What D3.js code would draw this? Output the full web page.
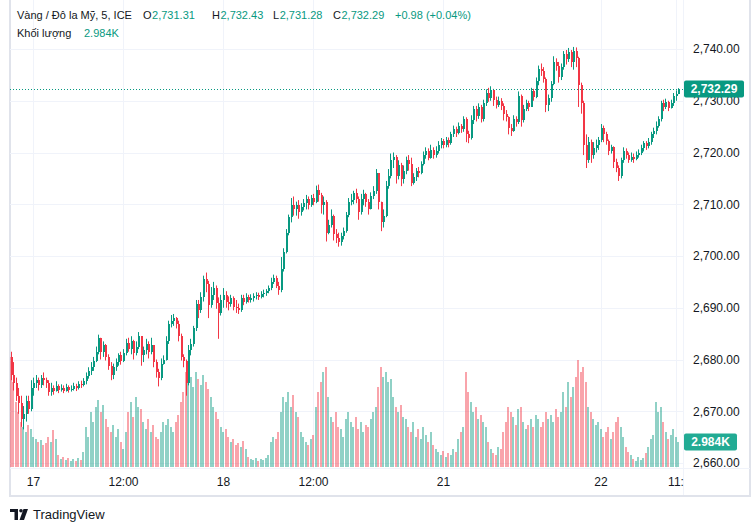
<!DOCTYPE html>
<html><head><meta charset="utf-8">
<script src="https://cdn.jsdelivr.net/npm/d3@7"></script>
<style>
html,body{margin:0;padding:0;background:#fff;}
svg{display:block;font-family:"Liberation Sans",Arial,sans-serif;}
</style></head>
<body><svg id="c" width="755" height="531"></svg>
<script>
// ---------------- DATA ----------------
const firstOpen = 2680.5;
const closes = [
2677,2675.5,2673,2671.5,2668.5,2669.5,2672,2670.5,2674.5,2675.5,
2676,2675,2676.5,2676,2675.5,2673.8,2674.5,2674,2674.8,2674.2,
2674.5,2674,2674.6,2674.2,2674.3,2674.8,2674.5,2675.2,2675,2675.8,
2676.8,2677.8,2678.5,2679.8,2681.5,2684.2,2681.5,2682.8,2680.5,2678.8,
2677,2678.5,2679.5,2680.8,2679.8,2681.2,2683.2,2682,2683.5,2681.2,
2682.5,2684.5,2680.8,2681.8,2683,2681.5,2682.8,2679.5,2677.5,2676.5,
2679.2,2680,2683.5,2686.8,2687.5,2688,2686.8,2684.5,2680.5,2679.8,
2675.5,2681.8,2683,2686,2690.8,2689.5,2692,2695.5,2694.5,2690.5,
2692.5,2693.8,2691,2689,2691.5,2692.5,2691.2,2690.8,2691.8,2690.2,
2690,2689.5,2691.8,2691.2,2692,2691.5,2691.8,2692.2,2692.5,2692,
2692.6,2692.9,2693.2,2693.8,2695,2695.8,2694.2,2693.5,2697.5,2700.8,
2704.5,2707.5,2709.8,2709,2709.8,2708.5,2709.5,2710.2,2711,2709.8,
2711.2,2710.5,2712.8,2711.8,2709.8,2710.5,2704.5,2706,2707.8,2704.2,
2703.5,2702.8,2703.8,2704.8,2708,2710.5,2710.8,2712.2,2711,2708.5,
2711,2712,2710.5,2709,2711.5,2712.5,2716,2710.5,2706.5,2707.8,
2713.5,2715.5,2718.5,2719.2,2715.5,2717.5,2714.8,2716.5,2718.5,2717.8,
2714.2,2715.2,2716.5,2716,2717.8,2719.5,2720.2,2719,2720.5,2719.5,
2720.3,2721.5,2722.2,2721.4,2722.5,2721.8,2723.5,2724.5,2723.8,2725.2,
2724.5,2726.5,2723.5,2722.8,2726.2,2728.5,2727,2728.8,2726.5,2729.5,
2731.5,2730.5,2732,2730.2,2729.2,2730,2729,2727.5,2726.8,2724.8,
2724.2,2726.5,2725.8,2731,2726.2,2728.5,2729.5,2728.8,2731.8,2730.8,
2733.8,2736.2,2735.8,2734.2,2729.2,2730.5,2733.2,2737.5,2736.8,2734.5,
2736.5,2739,2738,2739.5,2737.5,2739.6,2738.2,2733,2729.5,2721.5,
2718.5,2722,2719.5,2720.8,2721.5,2722.5,2724.8,2723.5,2722.2,2720.2,
2721,2718.2,2717,2715.5,2718.5,2720.2,2719.5,2718.5,2719.2,2718.8,
2719.5,2720,2720.8,2721.8,2721.2,2722,2723.5,2724.2,2725.2,2726.5,
2729.5,2728.8,2729.8,2728.6,2729.5,2731,2731.31,2732.29
];
const highs = [
2681.5,2679.5,2676.5,2674.5,2673,2671,2673,2673,2676,2676.5,
2677,2676.5,2677,2677.5,2676.5,2676,2675.5,2675,2675.8,2675.2,
2675.2,2675,2675.3,2675,2675,2675.5,2675.3,2675.8,2675.9,2676.4,
2677.5,2678.5,2679.5,2680.5,2682.5,2684.8,2684,2683.5,2683,2681,
2679.5,2679.2,2680.2,2681.2,2681.5,2682,2684,2684.2,2684.5,2683.8,
2683.5,2685.3,2684.5,2682.5,2684,2683.5,2684.2,2682.5,2680,2678.2,
2680.2,2680.8,2684.5,2687.5,2688.6,2688.8,2688.2,2687.5,2685,2681,
2680,2682.8,2684,2686.5,2691.5,2691.5,2693,2696.2,2696.8,2695.2,
2694,2695,2694.3,2692,2692.5,2693.8,2693.2,2692.2,2692.5,2692.2,
2691.5,2690.8,2692.5,2692.5,2692.8,2692.5,2692.6,2692.8,2693,2692.9,
2693.2,2693.5,2693.6,2694.3,2695.8,2696.4,2696.2,2695,2699.8,2701.5,
2705.2,2708,2711.2,2711.5,2710.5,2710.8,2710.2,2711,2711.8,2711.5,
2711.8,2712,2713.6,2713.8,2712.2,2711.5,2710.8,2707,2709,2708,
2705.2,2704.5,2704.5,2705.5,2708.5,2711.2,2712,2712.6,2713,2711.5,
2712,2712.8,2712.2,2711,2712.3,2713.5,2716.8,2716,2710.5,2709,
2714.5,2716.8,2719.8,2720,2719.5,2718.5,2718,2717.5,2719.2,2719.5,
2719,2716,2717,2717.2,2718.3,2720.2,2721,2720.8,2721.5,2721,
2721.2,2722.2,2722.8,2722.6,2723,2722.9,2724,2725.2,2725,2725.8,
2725.5,2727,2726.8,2724.2,2727.2,2729,2729,2729.5,2729.2,2730.2,
2732.2,2732.5,2732.8,2732.3,2730.8,2730.8,2730.5,2729.5,2728.2,2727,
2725.5,2727.2,2727,2731.8,2731.2,2729.2,2730.2,2730,2732.5,2732.3,
2734.5,2736.8,2737.2,2736.5,2734.5,2731.2,2733.8,2738.6,2738.2,2737.5,
2737.2,2739.6,2739.8,2740.2,2739.8,2740.4,2740.3,2738.5,2733.5,2730,
2723.5,2723,2722.5,2722,2722.5,2723,2725.5,2725.2,2724,2722.5,
2721.5,2721.2,2718.8,2717.5,2719,2721,2720.8,2720,2720,2719.8,
2720.2,2720.6,2721.5,2722.2,2722.2,2722.8,2724,2724.8,2726,2727,
2730,2730.2,2730.4,2730,2730.2,2731.5,2732,2732.43
];
const lows = [
2676,2674,2672,2669.5,2667,2666.5,2668,2669.5,2670,2673,
2674.5,2674,2674.5,2675,2674.5,2673,2673,2673.2,2673.8,2673.5,
2673.8,2673.5,2673.8,2673.6,2673.8,2674,2673.9,2674.2,2674.5,2674.8,
2675.2,2676.3,2677,2677.8,2679.5,2681,2680,2680.5,2679.8,2678,
2676,2676.2,2677.8,2678.8,2679,2679.5,2680.8,2681.5,2681,2680,
2680.8,2682,2678.8,2679.5,2681,2680.2,2681,2678.5,2676.5,2674.8,
2676,2679,2679.8,2683,2686.2,2686.5,2686,2683.5,2679.8,2678.5,
2673,2675,2680.8,2682.5,2685.5,2688,2689,2691.2,2693,2688,
2690,2691.5,2689.8,2684,2688.5,2690,2690,2689.5,2690.2,2689.5,
2689,2688.8,2689.2,2690.5,2690.8,2691,2691,2691.2,2691.6,2691.5,
2691.8,2692,2692.3,2692.8,2693.4,2694.6,2693.8,2692.5,2693,2697,
2700.5,2704,2706.5,2707.8,2707.8,2707.2,2707.8,2708.8,2709,2709,
2709.5,2709.8,2710.2,2710.5,2708.2,2708,2702.8,2704.2,2705.5,2703,
2702.5,2701.8,2702,2703.2,2704.5,2707.5,2709.8,2710,2710.2,2707,
2708,2709.8,2709.5,2708,2709,2711,2712,2709,2704.8,2705.5,
2707.5,2713,2715,2717,2714,2714.8,2713.5,2714,2715.8,2716.5,
2713.5,2713.8,2714.5,2715.2,2715.8,2717.5,2718.8,2718.5,2718.8,2718.8,
2719,2719.8,2720.8,2720.8,2721,2721,2721.5,2723,2723,2723.5,
2723.8,2724,2722,2721.8,2722.5,2725.5,2726,2726.5,2725.8,2726,
2729,2729.8,2730,2729,2728.5,2728.8,2728.2,2726.2,2726,2723.5,
2723.2,2724,2725,2725.5,2725,2725.8,2728,2728,2729,2730,
2730.5,2733,2734.8,2733.5,2727.8,2728,2729.8,2733,2735.8,2733.5,
2734,2736,2737,2737.5,2736.5,2736,2736.5,2728.8,2727.5,2719.5,
2717,2718,2718,2718.8,2720,2720.5,2722,2722,2721.5,2719.5,
2719.8,2717,2716.2,2714.5,2715,2718,2718.8,2718,2718.2,2718,
2718.5,2719,2719.5,2720.2,2720.5,2720.8,2721.5,2722.8,2723.5,2724.8,
2726,2728,2728.4,2728,2728.5,2729,2730,2731.28
];
// volume in thousands
const volumes = [
13.1,10.1,7.8,6.6,5.4,4.8,4.2,5.0,4.5,3.6,
3.3,3.0,3.2,2.6,2.9,3.6,3.0,4.4,3.3,1.4,
1.0,1.2,0.8,1.1,0.7,1.0,0.7,1.1,0.8,1.8,
4.8,3.6,6.6,5.4,7.2,8.0,6.6,7.4,5.7,4.8,
4.2,5.0,3.6,4.5,3.0,2.1,4.2,6.6,7.8,6.0,
8.4,7.2,6.9,5.4,4.5,5.7,4.2,5.0,3.6,3.3,
4.2,5.4,5.0,5.7,4.8,4.2,5.4,6.2,7.8,9.0,
11.3,10.1,10.7,9.5,11.3,10.5,9.8,11.0,10.1,9.3,
8.4,7.2,6.6,5.7,4.8,4.2,4.5,3.6,3.0,3.3,
2.6,2.9,2.4,3.1,2.1,1.2,1.0,0.8,1.1,0.7,
1.0,0.8,1.1,1.4,3.0,3.6,3.3,4.2,6.6,8.4,
7.8,9.0,7.2,8.6,6.6,6.0,4.2,3.6,3.0,2.6,
3.3,3.8,7.2,9.0,10.1,11.3,11.9,8.4,6.0,5.4,
6.6,4.8,4.5,3.6,5.7,6.6,5.4,4.8,6.0,4.5,
5.4,4.2,5.0,4.8,5.7,6.6,7.2,9.5,11.9,10.7,
11.3,10.1,10.5,8.4,7.2,6.6,7.4,6.0,5.7,4.8,
4.2,5.4,3.6,4.5,3.3,4.8,3.8,3.0,4.2,2.6,
2.1,1.8,1.4,1.9,1.2,1.7,1.4,2.1,1.8,3.3,
4.2,4.8,11.3,9.0,7.8,6.6,7.2,5.7,6.2,5.4,
4.8,3.0,2.1,1.7,1.4,2.4,2.1,4.2,5.4,7.2,
6.6,6.0,5.0,6.9,7.2,5.4,4.5,5.0,5.7,4.8,
6.2,5.7,4.8,5.4,6.6,5.7,6.2,5.4,6.9,6.0,
6.6,9.0,7.2,10.1,8.4,9.5,10.7,12.8,11.3,11.9,
10.1,7.2,6.6,5.7,5.0,5.4,4.5,3.6,4.2,4.8,
3.3,4.2,5.4,6.0,4.8,3.6,2.4,1.8,1.4,1.0,
0.7,1.2,0.8,1.1,1.7,2.4,3.3,3.8,7.8,6.6,
7.2,5.4,4.2,3.3,3.8,4.5,3.6,2.984
];
const timeTickIndex = [9,45,85,121,173,236,266];
const timeTickLabels = ["17","12:00","18","12:00","21","22","11:"];
const priceTicks = [2660,2670,2680,2690,2700,2710,2720,2730,2740];
const lastClose = 2732.29;
const lastVolumeLabel = "2.984K";
const headerTitle = "Vàng / Đô la Mỹ, 5, ICE";
const ohlcKeys = ["O","H","L","C"];
const ohlcVals = ["2,731.31","2,732.43","2,731.28","2,732.29"];
const changeText = "+0.98 (+0.04%)";
const volumeTitle = "Khối lượng";

// ---------------- CHART ----------------
const UP = "#089981", DN = "#f23645", INK = "#131722";
const svg = d3.select("#c");
const paneL = 10, paneR = 683, paneB = 468;
const n = closes.length;
const x = d3.scaleLinear().domain([0, n-1]).range([10.5, 678]);
const y = d3.scaleLinear().domain([2660, 2740]).range([463, 49]);
const yv = d3.scaleLinear().domain([0, 15]).range([467, 467 - 15*8.38]);

const opens = closes.map((c,i)=> i===0 ? firstOpen : closes[i-1]);

// frame
svg.append("rect").attr("x",10).attr("y",-2).attr("width",740).attr("height",498)
  .attr("fill","none").attr("stroke","#e0e3eb").attr("stroke-width",2);

// grid
const grid = svg.append("g");
grid.selectAll(".hg").data(priceTicks).join("line")
  .attr("x1",paneL).attr("x2",paneR).attr("y1",d=>Math.round(y(d))+0.5).attr("y2",d=>Math.round(y(d))+0.5)
  .attr("stroke","#f0f3fa").attr("stroke-width",1);
grid.selectAll(".vg").data(timeTickIndex).join("line")
  .attr("x1",d=>Math.round(x(d))+0.5).attr("x2",d=>Math.round(x(d))+0.5).attr("y1",0).attr("y2",paneB)
  .attr("stroke","#f0f3fa").attr("stroke-width",1);
svg.append("line").attr("x1",paneR+0.5).attr("x2",paneR+0.5).attr("y1",0).attr("y2",495).attr("stroke","#f0f3fa");
svg.append("line").attr("x1",paneL).attr("x2",750).attr("y1",paneB+0.5).attr("y2",paneB+0.5).attr("stroke","#f0f3fa");

const idx = d3.range(n);
// volume
svg.append("g").selectAll("rect").data(idx).join("rect")
  .attr("x",i=>x(i)-1).attr("width",2)
  .attr("y",i=>yv(volumes[i])).attr("height",i=>yv(0)-yv(volumes[i]))
  .attr("fill",i=> closes[i]>=opens[i] ? "rgba(8,153,129,0.45)" : "rgba(242,54,69,0.45)")
  .attr("shape-rendering","crispEdges");

// candles
const cg = svg.append("g");
cg.selectAll("line").data(idx).join("line")
  .attr("x1",i=>Math.round(x(i))+0.5).attr("x2",i=>Math.round(x(i))+0.5)
  .attr("y1",i=>y(Math.max(highs[i],opens[i],closes[i])))
  .attr("y2",i=>y(Math.min(lows[i],opens[i],closes[i])))
  .attr("stroke",i=> closes[i]>=opens[i]?UP:DN).attr("stroke-width",1);
cg.selectAll("rect").data(idx).join("rect")
  .attr("x",i=>Math.round(x(i))-0.5).attr("width",2)
  .attr("y",i=>y(Math.max(opens[i],closes[i])))
  .attr("height",i=>Math.max(1, Math.abs(y(opens[i])-y(closes[i]))))
  .attr("fill",i=> closes[i]>=opens[i]?UP:DN)
  .attr("shape-rendering","crispEdges");

// last price dotted line
svg.append("line").attr("x1",paneL).attr("x2",paneR).attr("y1",Math.round(y(lastClose))+0.5).attr("y2",Math.round(y(lastClose))+0.5)
  .attr("stroke",UP).attr("stroke-width",1).attr("stroke-dasharray","1,2");

// price axis
const ya = svg.append("g").attr("transform",`translate(${paneR},0)`)
  .call(d3.axisRight(y).tickValues(priceTicks).tickFormat(d3.format(",.2f")).tickSize(0).tickPadding(10));
ya.select(".domain").remove();
ya.selectAll("text").attr("font-size",12).attr("fill",INK).attr("font-family","Liberation Sans, Arial, sans-serif");

// time axis
const xa = svg.append("g").attr("transform",`translate(0,${paneB})`)
  .call(d3.axisBottom(x).tickValues(timeTickIndex).tickFormat((d,i)=>timeTickLabels[i]).tickSize(0).tickPadding(9));
xa.select(".domain").remove();
xa.selectAll("text").attr("font-size",12).attr("fill",INK).attr("font-family","Liberation Sans, Arial, sans-serif");

// last price label
const ly = y(lastClose);
svg.append("rect").attr("x",684).attr("y",ly-8.5).attr("width",60).attr("height",17).attr("rx",2).attr("fill",UP);
svg.append("text").attr("x",714).attr("y",ly+4.5).attr("text-anchor","middle").attr("font-size",12)
  .attr("font-weight","bold").attr("fill","#fff").text(d3.format(",.2f")(lastClose));
// volume label
const vy = yv(volumes[n-1]);
svg.append("rect").attr("x",684).attr("y",vy-8.5).attr("width",53).attr("height",17).attr("rx",2).attr("fill","#22ab94");
svg.append("text").attr("x",710.5).attr("y",vy+4.5).attr("text-anchor","middle").attr("font-size",12)
  .attr("font-weight","bold").attr("fill","#fff").text(lastVolumeLabel);

// header (positions flow from measured widths so nothing overlaps)
const HF = 11;
function put(t, xx, yy, col){
  const el = svg.append("text").attr("x",xx).attr("y",yy).attr("font-size",HF).attr("fill",col).text(t);
  return xx + el.node().getComputedTextLength();
}
put(headerTitle, 17, 19, INK);
const keyX = [143, 212, 273, 333];
ohlcKeys.forEach((k,i)=>{
  const e = put(k, keyX[i], 19, INK);
  put(ohlcVals[i], e + 0.5, 19, UP);
});
put(changeText, 395, 19, UP);
put(volumeTitle, 17, 37, INK);
put(lastVolumeLabel, 84, 37, UP);

// TradingView logo
const lg = svg.append("g").attr("fill",INK);
lg.append("path").attr("d","M10,509 H18 V520 H14.5 V512 H10 Z");
lg.append("circle").attr("cx",21).attr("cy",510.8).attr("r",1.8);
lg.append("path").attr("d","M23.5,509 H28 L24,520 H19.5 Z");
svg.append("text").attr("x",33).attr("y",519).attr("font-size",13).attr("fill",INK).text("TradingView");
</script></body></html>
